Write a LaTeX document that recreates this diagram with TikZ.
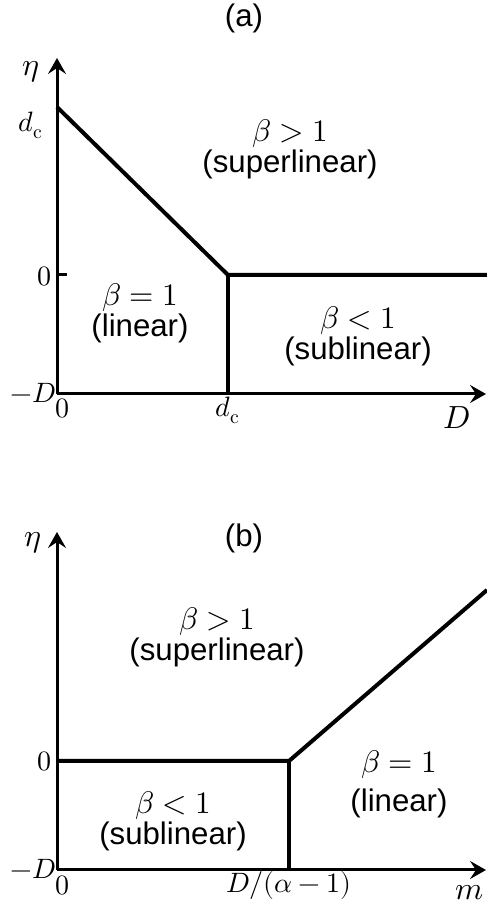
\documentclass[tikz,border=0pt]{standalone}
\usepackage{fontspec}
\usepackage{unicode-math}
\setmainfont{Liberation Sans}
\setmathfont{Latin Modern Math}
\usetikzlibrary{arrows.meta}

\begin{document}
\begin{tikzpicture}[
  x=0.5pt, y=0.5pt,
  axis/.style={line width=1.5pt, -{Stealth[length=8pt, width=9pt, inset=3pt]}},
  bound/.style={line width=2pt},
  regtxt/.style={font=\fontsize{15.6}{14}\selectfont, align=center, inner sep=0pt},
  ticklbl/.style={font=\fontsize{14}{16}\selectfont, inner sep=0pt},
  axlbl/.style={font=\fontsize{16}{18}\selectfont, inner sep=0pt},
  ttl/.style={font=\fontsize{15.6}{18}\selectfont, inner sep=0pt},
]
  \useasboundingbox (0,0) rectangle (487,916);

  % panel (a)
  \node[ttl] (ta) at (244,898) {(a)};
  \coordinate (oa) at (57,522);
  \coordinate (ya) at (57,858);
  \coordinate (xa) at (486,522);
  \coordinate (dca) at (57,809);
  \coordinate (ka) at (228,641);
  \coordinate (ra) at (487,641);
  \coordinate (fa) at (228,522);
  \coordinate (ta0) at (67,641);
  \draw[axis] (oa) -- (ya);
  \draw[axis] (oa) -- (xa);
  \draw[line width=1.5pt] (57,641) -- (ta0);
  \draw[bound] (dca) -- (ka) -- (ra);
  \draw[bound] (ka) -- (fa);

  \node[axlbl] (etaa) at (31,844) {$\eta$};
  \node[axlbl] (Da) at (457,498) {$D$};
  \node[ticklbl] (dcl) at (31,791) {$d_{\symup{c}}$};
  \node[ticklbl] (zya) at (45,640) {$0$};
  \node[ticklbl] (mDa) at (33,523) {$-D$};
  \node[ticklbl] (zxa) at (62,508) {$0$};
  \node[ticklbl] (dcx) at (228,506) {$d_{\symup{c}}$};

  \node[regtxt] (supa) at (290,767) {$\beta>1$\\(superlinear)};
  \node[regtxt] (lina) at (140,603) {$\beta=1$\\(linear)};
  \node[regtxt] (suba) at (358,580) {$\beta<1$\\(sublinear)};

  % panel (b)
  \node[ttl] (tb) at (244,378) {(b)};
  \coordinate (ob) at (57,46);
  \coordinate (yb) at (57,384);
  \coordinate (xb) at (486,46);
  \coordinate (zb) at (57,155);
  \coordinate (kb) at (289,155);
  \coordinate (rb) at (487,326);
  \coordinate (fb) at (289,46);
  \draw[axis] (ob) -- (yb);
  \draw[axis] (ob) -- (xb);
  \draw[bound] (zb) -- (kb) -- (rb);
  \draw[bound] (kb) -- (fb);

  \node[axlbl] (etab) at (33,373) {$\eta$};
  \node[axlbl] (mb) at (470,23) {$m$};
  \node[ticklbl] (zyb) at (45,155) {$0$};
  \node[ticklbl] (mDb) at (33,47) {$-D$};
  \node[ticklbl] (zxb) at (62,31) {$0$};
  \node[ticklbl] (alb) at (289,31) {$D/(\alpha-1)$};

  \node[regtxt] (supb) at (217,279) {$\beta>1$\\(superlinear)};
  \node[regtxt] (linb) at (399,132) {$\beta=1$\\[4pt](linear)};
  \node[regtxt] (subb) at (173,95) {$\beta<1$\\(sublinear)};
\end{tikzpicture}
\end{document}
